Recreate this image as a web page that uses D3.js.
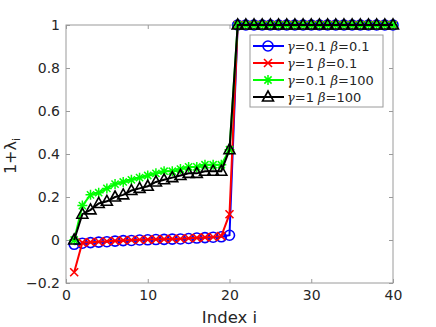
<!DOCTYPE html>
<meta charset="utf-8">
<style>
body { margin: 0; background: #fff; }
text { font-family: "DejaVu Sans", sans-serif; fill: #262626; }
.axis path, .axis line { stroke: #9a9a9a; }
</style>
<body>
<script src="https://d3js.org/d3.v7.min.js"></script>
<script>

// index values 1..40
var idx = d3.range(1, 41);

// values for i = 1..20, then 1 for i = 21..40
var blueHead  = [-0.02, -0.015, -0.012, -0.01, -0.008, -0.005, -0.003, -0.002, 0, 0.001,
                 0.002, 0.003, 0.004, 0.005, 0.007, 0.009, 0.011, 0.013, 0.015, 0.022];
var redHead   = [-0.15, -0.012, -0.01, -0.008, -0.006, -0.004, -0.002, 0, 0.001, 0.002,
                 0.003, 0.004, 0.005, 0.006, 0.008, 0.01, 0.012, 0.014, 0.018, 0.12];
var greenHead = [0.0, 0.16, 0.21, 0.22, 0.24, 0.26, 0.27, 0.28, 0.29, 0.30,
                 0.31, 0.32, 0.32, 0.33, 0.34, 0.34, 0.35, 0.35, 0.35, 0.42];
var blackHead = [0.0, 0.12, 0.14, 0.17, 0.18, 0.20, 0.21, 0.23, 0.24, 0.25,
                 0.27, 0.28, 0.29, 0.30, 0.31, 0.31, 0.32, 0.32, 0.32, 0.42];
var tail = d3.range(20).map(function() { return 1; });

var series = [
  {g: "0.1", b: "0.1", color: "#0000ff", marker: "circle",   vals: blueHead.concat(tail)},
  {g: "1",   b: "0.1", color: "#ff0000", marker: "x",        vals: redHead.concat(tail)},
  {g: "0.1", b: "100", color: "#00ff00", marker: "star",     vals: greenHead.concat(tail)},
  {g: "1",   b: "100", color: "#000000", marker: "triangle", vals: blackHead.concat(tail)}
];

var xTicks = [0, 10, 20, 30, 40];
var yTicks = [-0.2, 0, 0.2, 0.4, 0.6, 0.8, 1];

var margin = {top: 25, right: 43, bottom: 44, left: 66},
    width = 436 - margin.left - margin.right,
    height = 327 - margin.top - margin.bottom;

var svg = d3.select("body").append("svg")
    .attr("width", 436).attr("height", 327)
  .append("g")
    .attr("transform", "translate(" + margin.left + "," + margin.top + ")");

var x = d3.scaleLinear().domain([0, 40]).range([0, width]);
var y = d3.scaleLinear().domain([-0.2, 1]).range([height, 0]);

// box
svg.append("rect").attr("width", width).attr("height", height)
    .attr("fill", "none").attr("stroke", "#9a9a9a");

var gX = svg.append("g").attr("class", "axis")
    .attr("transform", "translate(0," + height + ")")
    .call(d3.axisBottom(x).tickValues(xTicks).tickSizeInner(-4).tickSizeOuter(0).tickPadding(7));
var gY = svg.append("g").attr("class", "axis")
    .call(d3.axisLeft(y).tickValues(yTicks).tickSizeInner(-4).tickSizeOuter(0).tickPadding(6)
      .tickFormat(function(d) { return d3.format("")(+d.toFixed(1)); }));
svg.append("g").attr("class", "axis")
    .attr("transform", "translate(" + width + ",0)")
    .call(d3.axisRight(y).tickValues(yTicks).tickSizeInner(-4).tickSizeOuter(0).tickFormat(""));
svg.append("g").attr("class", "axis")
    .call(d3.axisTop(x).tickValues(xTicks).tickSizeInner(-4).tickSizeOuter(0).tickFormat(""));
svg.selectAll(".axis text").style("font-size", "14px").attr("fill", "#262626");
svg.selectAll(".axis .domain").remove();

// axis labels
svg.append("text").attr("x", width / 2).attr("y", height + 40)
    .attr("text-anchor", "middle").style("font-size", "16.5px").text("Index i");
var yl = svg.append("text")
    .attr("transform", "translate(-50," + (height / 2 + 2) + ") rotate(-90)")
    .attr("text-anchor", "middle").style("font-size", "16px");
yl.append("tspan").text("1+\u03bb");
yl.append("tspan").attr("dy", 4).style("font-size", "11px").text("i");

function drawMarker(g, type, color, cx, cy) {
  if (type === "circle") {
    g.append("circle").attr("cx", cx).attr("cy", cy).attr("r", 5)
      .attr("fill", "none").attr("stroke", color).attr("stroke-width", 1.6);
  } else if (type === "x") {
    var s = 4;
    g.append("path").attr("d", "M" + (cx - s) + "," + (cy - s) + "L" + (cx + s) + "," + (cy + s) +
        "M" + (cx - s) + "," + (cy + s) + "L" + (cx + s) + "," + (cy - s))
      .attr("stroke", color).attr("stroke-width", 1.6);
  } else if (type === "star") {
    var r = 5, d = 3.6;
    g.append("path").attr("d", "M" + (cx - r) + "," + cy + "L" + (cx + r) + "," + cy +
        "M" + cx + "," + (cy - r) + "L" + cx + "," + (cy + r) +
        "M" + (cx - d) + "," + (cy - d) + "L" + (cx + d) + "," + (cy + d) +
        "M" + (cx - d) + "," + (cy + d) + "L" + (cx + d) + "," + (cy - d))
      .attr("stroke", color).attr("stroke-width", 1.5);
  } else if (type === "triangle") {
    g.append("path").attr("d", "M" + cx + "," + (cy - 6) + "L" + (cx + 5.5) + "," + (cy + 4) +
        "L" + (cx - 5.5) + "," + (cy + 4) + "Z")
      .attr("fill", "none").attr("stroke", color).attr("stroke-width", 1.6);
  }
}

var line = d3.line()
    .x(function(d, i) { return x(idx[i]); })
    .y(function(d) { return y(d); });

series.forEach(function(s) {
  var g = svg.append("g");
  g.append("path").attr("d", line(s.vals))
    .attr("fill", "none").attr("stroke", s.color).attr("stroke-width", 2);
  s.vals.forEach(function(v, i) { drawMarker(g, s.marker, s.color, x(idx[i]), y(v)); });
});

// legend
var lg = svg.append("g").attr("transform", "translate(" + (250 - margin.left) + "," + (35 - margin.top) + ")");
lg.append("rect").attr("width", 133).attr("height", 72)
    .attr("fill", "#fff").attr("stroke", "#9a9a9a");
series.forEach(function(s, i) {
  var yy = 11 + i * 17;
  lg.append("line").attr("x1", 3).attr("x2", 34).attr("y1", yy).attr("y2", yy)
    .attr("stroke", s.color).attr("stroke-width", 2);
  drawMarker(lg, s.marker, s.color, 18, yy);
  var t = lg.append("text").attr("x", 37).attr("y", yy + 5).style("font-size", "13px").attr("fill", "#000");
  t.append("tspan").style("font-style", "italic").style("font-family", "'DejaVu Serif', serif").text("\u03b3");
  t.append("tspan").text("=" + s.g + " ");
  t.append("tspan").style("font-style", "italic").style("font-family", "'DejaVu Serif', serif").text("\u03b2");
  t.append("tspan").text("=" + s.b);
});

</script>
</body>
